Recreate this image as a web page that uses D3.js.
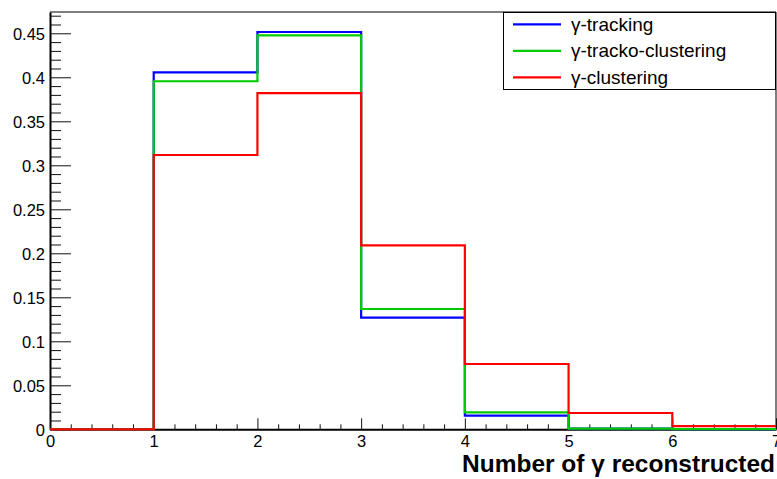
<!DOCTYPE html>
<html>
<head>
<meta charset="utf-8">
<script src="https://cdn.jsdelivr.net/npm/d3@7"></script>
<style>
html,body{margin:0;padding:0;background:#fff;}
svg{display:block;}
text{font-family:"Liberation Sans",Arial,Helvetica,sans-serif;fill:#000;}
</style>
</head>
<body>
<svg id="chart" width="777" height="479"></svg>
<script>
// ---- data ----
const binEdges = [0, 1, 2, 3, 4, 5, 6, 7];
const tracking = [0, 0.4057, 0.4515, 0.1268, 0.0155, 0.0008, 0.0003];
const trackoClustering = [0, 0.3955, 0.4477, 0.1367, 0.0193, 0.0008, 0.0003];
const clustering = [0, 0.3117, 0.3820, 0.2090, 0.0742, 0.0185, 0.0037];
const seriesNames = ["γ-tracking", "γ-tracko-clustering", "γ-clustering"];
const seriesColors = ["#0000ff", "#00cc00", "#ff0000"];
const xTickValues = [0, 1, 2, 3, 4, 5, 6, 7];
const xTickLabels = ["0", "1", "2", "3", "4", "5", "6", "7"];
const yTickValues = [0, 0.05, 0.1, 0.15, 0.2, 0.25, 0.3, 0.35, 0.4, 0.45];
const yTickLabels = ["0", "0.05", "0.1", "0.15", "0.2", "0.25", "0.3", "0.35", "0.4", "0.45"];
const xTitle = "Number of  γ reconstructed";

const W = 777, H = 479;
const m = {left: 50, right: 1, top: 12, bottom: 49.7};
const svg = d3.select("#chart");

const x = d3.scaleLinear().domain([0, 7]).range([m.left, W - m.right]);
const y = d3.scaleLinear().domain([0, 0.4742]).range([H - m.bottom, m.top]);

// frame (top & right)
svg.append("path")
  .attr("d", `M${x(0)},${y.range()[1]}H${x(7)}V${y(0)}`)
  .attr("fill", "none").attr("stroke", "#000").attr("stroke-width", 1);

// minor y ticks
const yMinor = d3.range(0, 48).map(i => i / 100).filter(v => Math.round(v * 100) % 5 !== 0);
svg.append("g").attr("transform", `translate(${x(0)},0)`)
  .call(d3.axisLeft(y).tickValues(yMinor).tickSize(-11).tickSizeOuter(0).tickFormat(""))
  .call(g => g.select(".domain").remove())
  .call(g => g.selectAll("line").attr("stroke", "#111"));
// minor x ticks
const xMinor = d3.range(0, 36).map(i => i * 0.2).filter(v => Math.abs(v - Math.round(v)) > 1e-6);
svg.append("g").attr("transform", `translate(0,${y(0)})`)
  .call(d3.axisBottom(x).tickValues(xMinor).tickSize(-5).tickSizeOuter(0).tickFormat(""))
  .call(g => g.select(".domain").remove())
  .call(g => g.selectAll("line").attr("stroke", "#111"));

// major y axis
svg.append("g").attr("transform", `translate(${x(0)},0)`)
  .call(d3.axisLeft(y).tickValues(yTickValues).tickSize(-21).tickSizeOuter(0).tickPadding(5)
        .tickFormat((d, i) => yTickLabels[i]))
  .call(g => g.select(".domain").attr("stroke", "#000").attr("stroke-width", 2))
  .call(g => g.selectAll("line").attr("stroke", "#111"))
  .call(g => g.selectAll("text").attr("font-size", 16.5).attr("dy", "0.36em")
        .attr("font-family", "Liberation Sans, Arial, sans-serif").attr("fill", "#000"));

// major x axis
svg.append("g").attr("transform", `translate(0,${y(0)})`)
  .call(d3.axisBottom(x).tickValues(xTickValues).tickSize(-11).tickSizeOuter(0).tickPadding(6)
        .tickFormat((d, i) => xTickLabels[i]))
  .call(g => g.select(".domain").attr("stroke", "#000").attr("stroke-width", 2))
  .call(g => g.selectAll("line").attr("stroke", "#111"))
  .call(g => g.selectAll("text").attr("font-size", 16.5)
        .attr("font-family", "Liberation Sans, Arial, sans-serif").attr("fill", "#000"));

// histograms
const allSeries = [tracking, trackoClustering, clustering];
const line = d3.line().x(d => x(d[0])).y(d => y(d[1])).curve(d3.curveStepAfter);
allSeries.forEach((vals, si) => {
  const pts = vals.map((v, i) => [binEdges[i], v]);
  pts.push([binEdges[binEdges.length - 1], vals[vals.length - 1]]);
  svg.append("path").datum(pts)
    .attr("d", line)
    .attr("fill", "none")
    .attr("stroke", seriesColors[si])
    .attr("stroke-width", 2.2);
});

// x title
svg.append("text")
  .attr("x", x(7) - 1).attr("y", 472)
  .attr("text-anchor", "end")
  .attr("font-size", 23).attr("font-weight", "bold")
  .attr("textLength", 313).attr("lengthAdjust", "spacingAndGlyphs")
  .text(xTitle);

// legend
const lg = svg.append("g");
lg.append("rect").attr("x", 503.5).attr("y", 12.5).attr("width", 272).attr("height", 77)
  .attr("fill", "#fff").attr("stroke", "#000").attr("stroke-width", 1);
seriesNames.forEach((name, i) => {
  const cy = 24.3 + i * 26.5;
  lg.append("line").attr("x1", 513).attr("x2", 561).attr("y1", cy).attr("y2", cy)
    .attr("stroke", seriesColors[i]).attr("stroke-width", 2.2);
  lg.append("text").attr("x", 571).attr("y", cy + 6.5).attr("font-size", 19).text(name);
});
</script>
</body>
</html>
